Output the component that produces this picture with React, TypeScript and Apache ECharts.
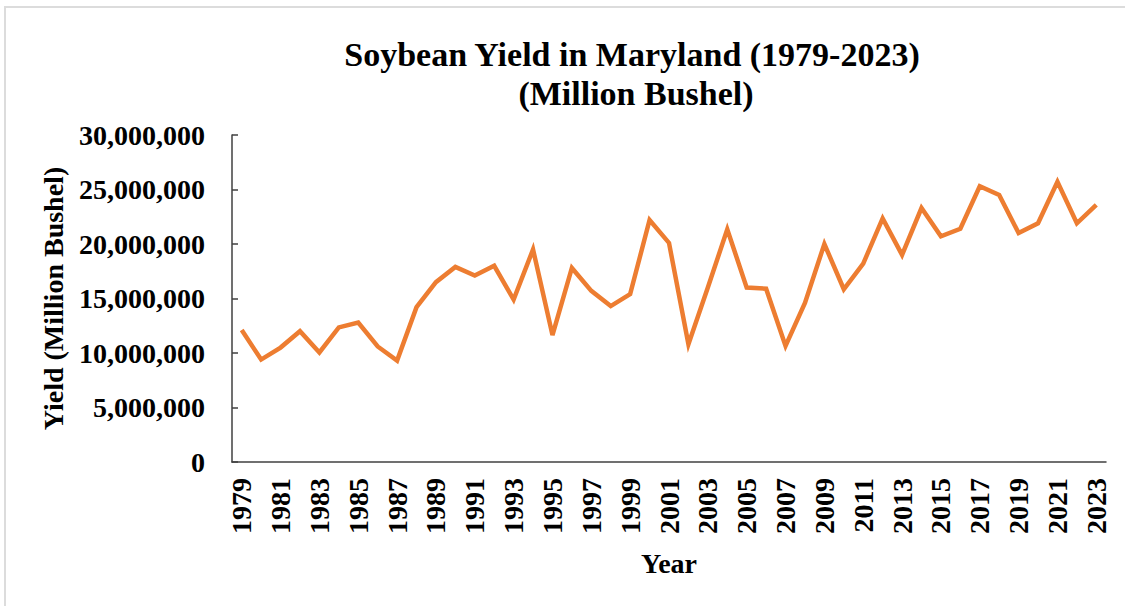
import React, { useEffect, useRef } from "react";
import * as echarts from "echarts";

const years: string[] = [
  "1979", "1980", "1981", "1982", "1983", "1984", "1985", "1986", "1987", "1988",
  "1989", "1990", "1991", "1992", "1993", "1994", "1995", "1996", "1997", "1998",
  "1999", "2000", "2001", "2002", "2003", "2004", "2005", "2006", "2007", "2008",
  "2009", "2010", "2011", "2012", "2013", "2014", "2015", "2016", "2017", "2018",
  "2019", "2020", "2021", "2022", "2023",
];

const yieldValues: number[] = [
  12100000, 9400000, 10500000, 12000000, 10050000, 12350000, 12800000, 10600000, 9300000, 14200000,
  16500000, 17900000, 17100000, 18000000, 14900000, 19500000, 11650000, 17800000, 15700000, 14300000,
  15400000, 22200000, 20100000, 10800000, 16000000, 21350000, 16000000, 15900000, 10650000, 14600000,
  20000000, 15850000, 18200000, 22350000, 19000000, 23300000, 20700000, 21400000, 25300000, 24500000,
  21000000, 21900000, 25700000, 21900000, 23600000,
];

const titleLines: string[] = ["Soybean Yield in Maryland (1979-2023)", "(Million Bushel)"];
const yAxisTitle = "Yield (Million Bushel)";
const xAxisTitle = "Year";

const FONT = '"Liberation Serif", "Times New Roman", serif';

export default function App() {
  const ref = useRef<HTMLDivElement>(null);

  useEffect(() => {
    if (!ref.current) return;
    const chart = echarts.init(ref.current, null, { renderer: "svg" });
    const titleStyle = {
      fontFamily: FONT,
      fontWeight: "bold",
      fontSize: 34,
      fill: "#000",
      textAlign: "center",
      textVerticalAlign: "middle",
    };
    chart.setOption({
      animation: false,
      backgroundColor: "#ffffff",
      graphic: [
        {
          type: "line",
          shape: { x1: 4, y1: 7, x2: 1125, y2: 7 },
          style: { stroke: "#dcdcdc", lineWidth: 2 },
        },
        {
          type: "line",
          shape: { x1: 5, y1: 7, x2: 5, y2: 606 },
          style: { stroke: "#dcdcdc", lineWidth: 2 },
        },
        {
          type: "text",
          x: 632,
          y: 54,
          style: { ...titleStyle, text: titleLines[0] },
        },
        {
          type: "text",
          x: 636,
          y: 93,
          style: { ...titleStyle, text: titleLines[1] },
        },
      ],
      grid: { left: 232, right: 19, top: 135, bottom: 144 },
      xAxis: {
        type: "category",
        data: years,
        boundaryGap: true,
        name: xAxisTitle,
        nameLocation: "middle",
        nameGap: 87,
        nameTextStyle: { fontFamily: FONT, fontWeight: "bold", fontSize: 28, color: "#000", verticalAlign: "top" },
        axisLine: { lineStyle: { color: "#404040", width: 1.5 } },
        axisTick: { inside: true, length: 6, interval: 0, lineStyle: { color: "#404040", width: 1.5 } },
        axisLabel: {
          rotate: 90,
          interval: 1,
          margin: 16,
          fontFamily: FONT,
          fontWeight: "bold",
          fontSize: 28,
          color: "#000",
        },
        splitLine: { show: false },
      },
      yAxis: {
        type: "value",
        min: 0,
        max: 30000000,
        interval: 5000000,
        name: yAxisTitle,
        nameLocation: "middle",
        nameGap: 165,
        nameTextStyle: { fontFamily: FONT, fontWeight: "bold", fontSize: 28, color: "#000" },
        axisLine: { show: true, lineStyle: { color: "#404040", width: 1.5 } },
        axisTick: { show: true, inside: true, length: 6, lineStyle: { color: "#404040", width: 1.5 } },
        axisLabel: {
          margin: 27,
          fontFamily: FONT,
          fontWeight: "bold",
          fontSize: 28,
          color: "#000",
          formatter: (v: number) => v.toLocaleString("en-US"),
        },
        splitLine: { show: false },
      },
      series: [
        {
          type: "line",
          data: yieldValues,
          symbol: "none",
          lineStyle: { color: "#ED7D31", width: 4.5, join: "miter" },
          itemStyle: { color: "#ED7D31" },
        },
      ],
    });
    return () => chart.dispose();
  }, []);

  return (
    <div
      ref={ref}
      style={{ position: "absolute", left: 0, top: 0, width: 1125, height: 606 }}
    />
  );
}
